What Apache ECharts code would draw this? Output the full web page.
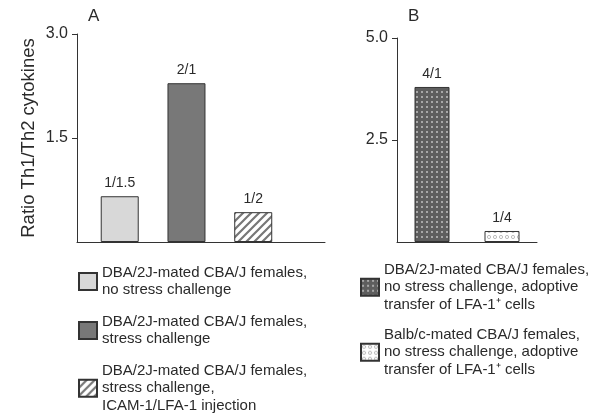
<!DOCTYPE html>
<html>
<head>
<meta charset="utf-8">
<script src="https://cdn.jsdelivr.net/npm/echarts@6/dist/echarts.min.js"></script>
<style>
html,body{margin:0;padding:0;background:#fff;}
#c{width:606px;height:415px;}
</style>
</head>
<body>
<div id="c"></div>
<script>
// ---- data ----
var catsA = [
  'DBA/2J-mated CBA/J females,\nno stress challenge',
  'DBA/2J-mated CBA/J females,\nstress challenge',
  'DBA/2J-mated CBA/J females,\nstress challenge,\nICAM-1/LFA-1 injection'
];
var valuesA = [0.66, 2.29, 0.43];
var ratioLabelsA = ['1/1.5', '2/1', '1/2'];
var ticksA = [1.5, 3.0];

var catsB = [
  'DBA/2J-mated CBA/J females,\nno stress challenge, adoptive\ntransfer of LFA-1\u207A cells',
  'Balb/c-mated CBA/J females,\nno stress challenge, adoptive\ntransfer of LFA-1\u207A cells'
];
var valuesB = [3.80, 0.27];
var ratioLabelsB = ['4/1', '1/4'];
var ticksB = [2.5, 5.0];

var yName = 'Ratio Th1/Th2 cytokines';
var panelTitles = ['A', 'B'];

// ---- patterns ----
function makePattern(size, draw) {
  var c = document.createElement('canvas');
  c.width = size; c.height = size;
  var ctx = c.getContext('2d');
  draw(ctx, size);
  return { image: c, repeat: 'repeat' };
}
var hatch = makePattern(8, function (ctx, s) {
  ctx.fillStyle = '#ffffff'; ctx.fillRect(0, 0, s, s);
  ctx.strokeStyle = '#777777'; ctx.lineWidth = 2.2;
  ctx.beginPath();
  ctx.moveTo(-2, s + 2); ctx.lineTo(s + 2, -2);
  ctx.moveTo(-2, 2); ctx.lineTo(2, -2);
  ctx.moveTo(s - 2, s + 2); ctx.lineTo(s + 2, s - 2);
  ctx.stroke();
});
var darkDots = makePattern(5, function (ctx, s) {
  ctx.fillStyle = '#5e5e5e'; ctx.fillRect(0, 0, s, s);
  ctx.fillStyle = '#a8a8a8'; ctx.fillRect(1, 1, 2, 2);
});
var lightDots = makePattern(6, function (ctx, s) {
  ctx.fillStyle = '#ffffff'; ctx.fillRect(0, 0, s, s);
  ctx.strokeStyle = '#bdbdbd'; ctx.lineWidth = 1;
  ctx.beginPath(); ctx.arc(3, 3, 1.6, 0, Math.PI * 2); ctx.stroke();
});
var fillsA = ['#d8d8d8', '#787878', hatch];
var fillsB = [darkDots, lightDots];

var font = 'Liberation Sans, Arial, sans-serif';
var axisCol = '#333';
var textCol = '#2a2a2a';

function yAxisFor(gridIndex, max, interval, ticks, withName) {
  var ax = {
    type: 'value', gridIndex: gridIndex, min: 0, max: max, interval: interval,
    axisLine: { show: true, onZero: false, lineStyle: { color: axisCol, width: 1 } },
    axisTick: { show: true, length: 5, lineStyle: { color: axisCol }, customValues: ticks },
    axisLabel: {
      color: textCol, fontSize: 16, fontFamily: font, margin: 9,
      customValues: ticks,
      formatter: function (v) { return v === 0 ? '' : v.toFixed(1); }
    },
    splitLine: { show: false }
  };
  if (withName) {
    ax.name = yName;
    ax.nameLocation = 'middle';
    ax.nameGap = 39;
    ax.nameTextStyle = { color: textCol, fontSize: 18.5, fontFamily: font };
  }
  return ax;
}

var series = [];
catsA.forEach(function (name, i) {
  series.push({
    type: 'bar', name: name, xAxisIndex: 0, yAxisIndex: 0,
    barWidth: 38, barGap: '-100%',
    data: [[i, valuesA[i]]],
    itemStyle: { color: fillsA[i], borderColor: '#333', borderWidth: 1 },
    label: {
      show: true, position: 'top', distance: 6, color: textCol,
      fontSize: 14, fontFamily: font,
      formatter: (function (t) { return function () { return t; }; })(ratioLabelsA[i])
    }
  });
});
catsB.forEach(function (name, i) {
  var d = catsB.map(function (_, j) { return j === i ? valuesB[i] : '-'; });
  series.push({
    type: 'bar', name: name, xAxisIndex: 1, yAxisIndex: 1,
    barWidth: 35, barGap: '-100%',
    data: d,
    itemStyle: { color: fillsB[i], borderColor: '#333', borderWidth: 1 },
    label: {
      show: true, position: 'top', distance: 6, color: textCol,
      fontSize: 14, fontFamily: font,
      formatter: (function (t) { return function () { return t; }; })(ratioLabelsB[i])
    }
  });
});

var legendCommon = {
  orient: 'vertical', icon: 'rect', itemWidth: 18, itemHeight: 17,
  itemGap: 14, selectedMode: false, padding: 0, height: 300,
  textStyle: { color: textCol, fontSize: 15, fontFamily: font, lineHeight: 17.5 }
};

var option = {
  animation: false,
  backgroundColor: '#fff',
  title: [
    { text: panelTitles[0], left: 88, top: 8, padding: 0, textStyle: { color: textCol, fontSize: 17, fontWeight: 'normal', fontFamily: font } },
    { text: panelTitles[1], left: 408, top: 8, padding: 0, textStyle: { color: textCol, fontSize: 17, fontWeight: 'normal', fontFamily: font } }
  ],
  grid: [
    { left: 77, top: 34, width: 248, height: 208 },
    { left: 397, top: 38, width: 140, height: 204 }
  ],
  xAxis: [
    { type: 'value', gridIndex: 0, min: -0.64, max: 3.075,
      axisLine: { show: true, onZero: false, lineStyle: { color: axisCol } },
      axisTick: { show: false }, axisLabel: { show: false }, splitLine: { show: false } },
    { type: 'category', gridIndex: 1, data: catsB,
      axisLine: { show: true, onZero: false, lineStyle: { color: axisCol } },
      axisTick: { show: false }, axisLabel: { show: false } }
  ],
  yAxis: [
    yAxisFor(0, 3, 1.5, ticksA, true),
    yAxisFor(1, 5, 2.5, ticksB, false)
  ],
  legend: [
    Object.assign({}, legendCommon, { left: 78, top: 264, data: catsA }),
    Object.assign({}, legendCommon, { left: 360, top: 261, itemGap: 12.5, data: catsB })
  ],
  series: series
};

var chart = echarts.init(document.getElementById('c'), null, { renderer: 'canvas' });
chart.setOption(option);
</script>
</body>
</html>
